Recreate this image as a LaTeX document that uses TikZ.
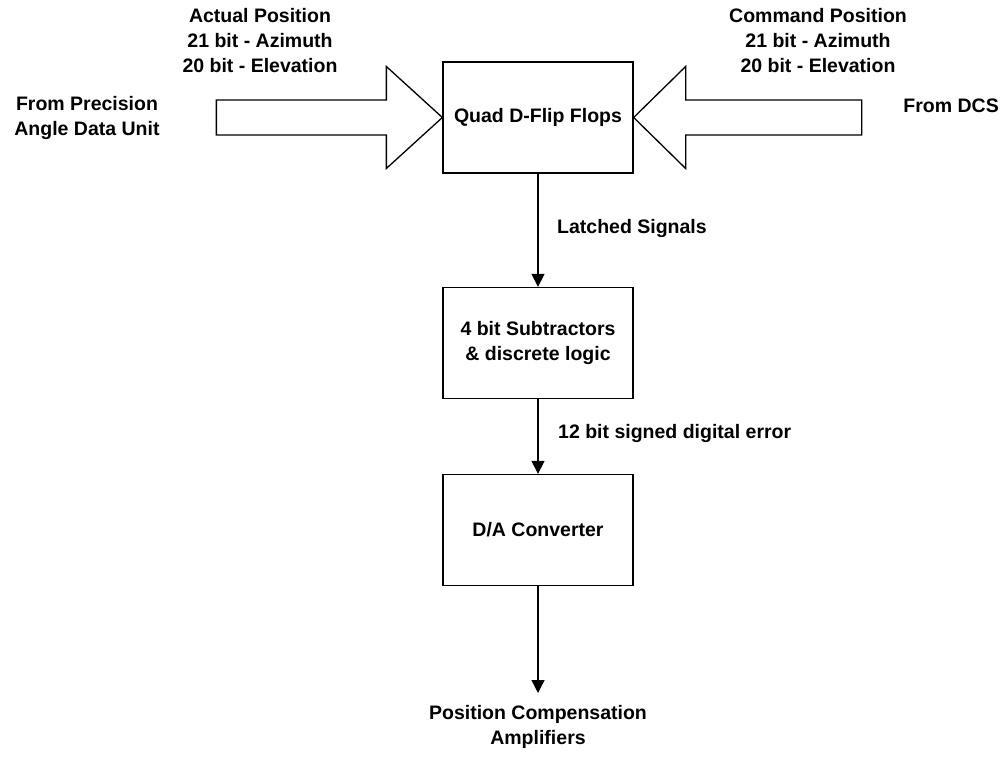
\documentclass[tikz,border=0pt]{standalone}
\usepackage{fontspec}
\setmainfont{Liberation Sans}
\usepackage{tikz}
\usetikzlibrary{arrows.meta,calc,positioning}
\tikzset{%
	block/.style    = {draw, rectangle, line width=1.3pt, minimum width=190pt, minimum height=111pt, align=center},
	bigarrow/.style = {draw, line width=1.3pt, line join=miter},
	arrow/.style    = {line width=1.3pt, -{Triangle[width=13pt,length=13pt]}},
	lbl/.style      = {align=center, inner sep=0pt},
}

\begin{document}
\begin{tikzpicture}[x=1pt,y=1pt,font=\bfseries\fontsize{19.5}{25}\selectfont]
	\useasboundingbox (0,0) rectangle (1008,756);
	\node[block] (flip) at (538,638.5) {Quad D-Flip Flops};
	\node[block] (sub) at (538,413) {4 bit Subtractors\\\& discrete logic};
	\node[block] (dac) at (538,226) {D/A Converter};
	\coordinate (out) at (538,63);
	% input arrows into the flip flops
	\draw[bigarrow] (flip.west) -- ++(-56,51) -- ++(0,-33.5) -- ++(-170,0) -- ++(0,-35) -- ++(170,0) -- ++(0,-33.5) -- cycle;
	\draw[bigarrow] (flip.east) -- ++(52,51) -- ++(0,-33.5) -- ++(176,0) -- ++(0,-35) -- ++(-176,0) -- ++(0,-33.5) -- cycle;
	\node[lbl] (actual) at (260,715) {Actual Position\\21 bit - Azimuth\\20 bit - Elevation};
	\node[lbl] (command) at (818,715) {Command Position\\21 bit - Azimuth\\20 bit - Elevation};
	\node[lbl] (pada) at (87,638) {From Precision\\Angle Data Unit};
	\node[lbl,anchor=east] (dcs) at (999,650) {From DCS};
	% signal chain
	\draw[arrow] (flip) -- (sub);
	\draw[arrow] (sub) -- (dac);
	\draw[arrow] (dac) -- (out);
	\node[lbl,anchor=west] (latch) at (557,527) {Latched Signals};
	\node[lbl,anchor=west] (err) at (558,323) {12 bit signed digital error};
	\node[lbl,below=12pt of out] (amp) {Position Compensation\\Amplifiers};
\end{tikzpicture}
\end{document}
